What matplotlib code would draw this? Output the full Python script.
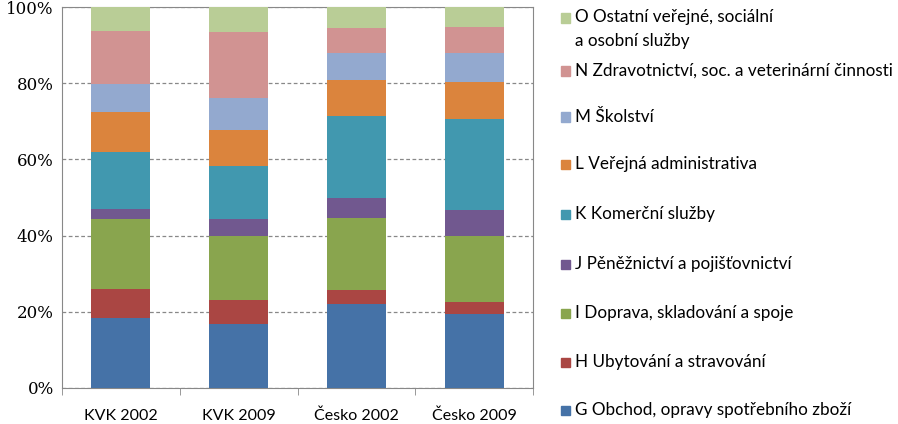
import matplotlib.pyplot as plt
import numpy as np
from matplotlib.patches import Rectangle

categories = ['KVK 2002', 'KVK 2009', 'Česko 2002', 'Česko 2009']
labels = ['G Obchod, opravy spotřebního zboží',
          'H Ubytování a stravování',
          'I Doprava, skladování a spoje',
          'J Pěněžnictví a pojišťovnictví',
          'K Komerční služby',
          'L Veřejná administrativa',
          'M Školství',
          'N Zdravotnictví, soc. a veterinární činnosti',
          'O Ostatní veřejné, sociální\na osobní služby']
G = [18.4, 16.8, 22.0, 19.4]
H = [7.6, 6.3, 3.7, 3.2]
I = [18.4, 16.8, 18.9, 17.3]
J = [2.6, 4.5, 5.3, 6.8]
K = [14.9, 13.9, 21.5, 23.9]
L = [10.5, 9.4, 9.4, 9.7]
M = [7.4, 8.4, 7.1, 7.6]
N = [13.9, 17.3, 6.6, 6.9]
O = [6.3, 6.6, 5.5, 5.2]
series = [G, H, I, J, K, L, M, N, O]
colors = ['#4572A7', '#AA4643', '#89A54E', '#71588F', '#4198AF',
          '#DB843D', '#93A9CF', '#D19392', '#B9CD96']

fig = plt.figure(figsize=(8.98, 4.24), dpi=100)
ax = fig.add_axes([62/898, 1-388/424, (533-62)/898, (388-7)/424])

x = np.arange(len(categories))
bottom = np.zeros(len(categories))
for vals, c in zip(series, colors):
    ax.bar(x, vals, 0.5, bottom=bottom, color=c, zorder=3)
    bottom += np.array(vals)

ax.set_xlim(-0.5, len(categories) - 0.5)
ax.set_ylim(0, 100)
ax.set_yticks(range(0, 101, 20))
ax.set_yticklabels([f'{v}%' for v in range(0, 101, 20)], family='DejaVu Serif', fontsize=12)
ax.yaxis.grid(True, color='#888888', linestyle=(0, (3, 2)), linewidth=0.9, zorder=0)
ax.tick_params(axis='y', length=0, pad=6)
ax.set_xticks(x)
ax.set_xticklabels(categories, family='Lato', fontsize=11.5)
ax.set_xticks(np.arange(-0.5, len(categories)), minor=True)
ax.tick_params(axis='x', which='major', length=0, pad=15)
ax.tick_params(axis='x', which='minor', length=5, color='#888888', direction='out')
for s in ax.spines.values():
    s.set_color('#888888')

# legend drawn manually, top entry first
ys = [18, 71, 117, 164, 214, 264, 313, 362, 410]
for lab, c, yp in zip(labels[::-1], colors[::-1], ys):
    fig.patches.append(Rectangle((561/898, 1-(yp+4.5)/424), 9/898, 9/424,
                                 transform=fig.transFigure, color=c))
    t = fig.text(575/898, 1-yp/424, lab, family='Lato', fontsize=12.3,
                 va='center', linespacing=1.6, transform=fig.transFigure)
    if '\n' in lab:
        t.set_va('top')
        t.set_y(1-(yp-9)/424)

fig.savefig('out.png', dpi=100)
